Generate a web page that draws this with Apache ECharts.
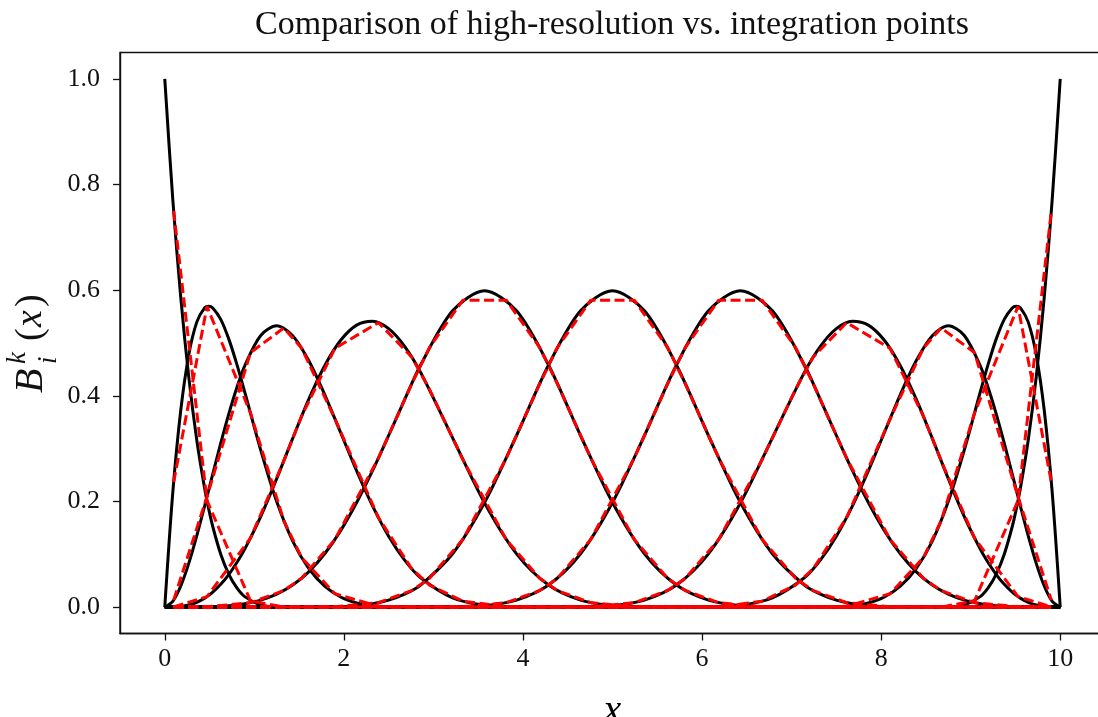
<!DOCTYPE html>
<html>
<head>
<meta charset="utf-8">
<script src="https://cdn.jsdelivr.net/npm/echarts@6/dist/echarts.min.js"></script>
<style>
html,body{margin:0;padding:0;background:#fff;}
#chart{width:1098px;height:717px;}
</style>
</head>
<body>
<div id="chart"></div>
<script>
// ---- high-resolution sample locations (x) ----
const X_HI = [0, 0.089286, 0.178571, 0.267857, 0.357143, 0.446429, 0.491071, 0.535714, 0.625, 0.714286, 0.803571, 0.892857, 1.071429, 1.25, 1.428571, 1.607143, 1.785714, 1.964286, 2.142857, 2.321429, 2.5, 2.678571, 2.857143,
  3.214286, 3.571429, 3.928571, 4.285714, 4.642857, 5, 5.357143, 5.714286, 6.071429, 6.428571, 6.785714,
  7.142857, 7.321429, 7.5, 7.678571, 7.857143, 8.035714, 8.214286, 8.392857, 8.571429, 8.75, 8.928571, 9.107143, 9.196429, 9.285714, 9.375, 9.464286, 9.508929, 9.553571, 9.642857, 9.732143, 9.821429, 9.910714, 10];

// ---- high-resolution basis values (black solid) ----
const B0 = [1, 0.772476, 0.586182, 0.435806, 0.316406, 0.223404, 0.185471, 0.152588, 0.100113, 0.0625, 0.036636, 0.019775, 0.003906, 0.000244, 0, 0, 0, 0, 0, 0, 0, 0, 0,
  0, 0, 0, 0, 0, 0, 0, 0, 0, 0, 0,
  0, 0, 0, 0, 0, 0, 0, 0, 0, 0, 0, 0, 0, 0, 0, 0, 0, 0, 0, 0, 0, 0, 0];
const B1 = [0, 0.216524, 0.372589, 0.47742, 0.53955, 0.566836, 0.569675, 0.566437, 0.544833, 0.507812, 0.460482, 0.407257, 0.297363, 0.199737, 0.125, 0.073273, 0.039551, 0.019073, 0.007813, 0.002472, 0.000488, 0.000031, 0,
  0, 0, 0, 0, 0, 0, 0, 0, 0, 0, 0,
  0, 0, 0, 0, 0, 0, 0, 0, 0, 0, 0, 0, 0, 0, 0, 0, 0, 0, 0, 0, 0, 0, 0];
const B2 = [0, 0.010842, 0.040002, 0.082758, 0.13482, 0.19233, 0.22204, 0.251861, 0.310423, 0.365452, 0.41482, 0.456832, 0.51416, 0.532515, 0.513889, 0.466828, 0.402398, 0.330163, 0.257813, 0.191166, 0.134169, 0.088898, 0.055556,
  0.017578, 0.003472, 0.000217, 0, 0, 0, 0, 0, 0, 0, 0,
  0, 0, 0, 0, 0, 0, 0, 0, 0, 0, 0, 0, 0, 0, 0, 0, 0, 0, 0, 0, 0, 0, 0];
const B3 = [0, 0.000157, 0.001217, 0.003966, 0.009061, 0.017034, 0.022231, 0.02829, 0.043106, 0.061632, 0.08389, 0.109778, 0.171387, 0.24308, 0.319444, 0.393199, 0.456977, 0.505124, 0.533854, 0.541256, 0.527289, 0.493785, 0.444444,
  0.320475, 0.197049, 0.100857, 0.041667, 0.013184, 0.002604, 0.000163, 0, 0, 0, 0,
  0, 0, 0, 0, 0, 0, 0, 0, 0, 0, 0, 0, 0, 0, 0, 0, 0, 0, 0, 0, 0, 0, 0];
const B4 = [0, 0.000001, 0.00001, 0.000052, 0.000163, 0.000397, 0.000582, 0.000824, 0.001527, 0.002604, 0.004171, 0.006358, 0.013184, 0.024424, 0.041667, 0.066691, 0.100911, 0.144816, 0.197917, 0.258748, 0.32487, 0.392863, 0.458333,
  0.560872, 0.598958, 0.560872, 0.458333, 0.32487, 0.197917, 0.100911, 0.041667, 0.013184, 0.002604, 0.000163,
  0, 0, 0, 0, 0, 0, 0, 0, 0, 0, 0, 0, 0, 0, 0, 0, 0, 0, 0, 0, 0, 0, 0];
const B5 = [0, 0, 0, 0, 0, 0, 0, 0, 0, 0, 0, 0, 0, 0, 0, 0.00001, 0.000163, 0.000824, 0.002604, 0.006358, 0.013184, 0.024424, 0.041667,
  0.100911, 0.197917, 0.32487, 0.458333, 0.560872, 0.598958, 0.560872, 0.458333, 0.32487, 0.197917, 0.100911,
  0.041667, 0.024424, 0.013184, 0.006358, 0.002604, 0.000824, 0.000163, 0.00001, 0, 0, 0, 0, 0, 0, 0, 0, 0, 0, 0, 0, 0, 0, 0];
const B6 = [0, 0, 0, 0, 0, 0, 0, 0, 0, 0, 0, 0, 0, 0, 0, 0, 0, 0, 0, 0, 0, 0, 0,
  0.000163, 0.002604, 0.013184, 0.041667, 0.100911, 0.197917, 0.32487, 0.458333, 0.560872, 0.598958, 0.560872,
  0.458333, 0.392863, 0.32487, 0.258748, 0.197917, 0.144816, 0.100911, 0.066691, 0.041667, 0.024424, 0.013184, 0.006358, 0.004171, 0.002604, 0.001527, 0.000824, 0.000582, 0.000397, 0.000163, 0.000052, 0.00001, 0.000001, 0];
const B7 = [0, 0, 0, 0, 0, 0, 0, 0, 0, 0, 0, 0, 0, 0, 0, 0, 0, 0, 0, 0, 0, 0, 0,
  0, 0, 0, 0, 0.000163, 0.002604, 0.013184, 0.041667, 0.100857, 0.197049, 0.320475,
  0.444444, 0.493785, 0.527289, 0.541256, 0.533854, 0.505124, 0.456977, 0.393199, 0.319444, 0.24308, 0.171387, 0.109778, 0.08389, 0.061632, 0.043106, 0.02829, 0.022231, 0.017034, 0.009061, 0.003966, 0.001217, 0.000157, 0];
const B8 = [0, 0, 0, 0, 0, 0, 0, 0, 0, 0, 0, 0, 0, 0, 0, 0, 0, 0, 0, 0, 0, 0, 0,
  0, 0, 0, 0, 0, 0, 0, 0, 0.000217, 0.003472, 0.017578,
  0.055556, 0.088898, 0.134169, 0.191166, 0.257813, 0.330163, 0.402398, 0.466828, 0.513889, 0.532515, 0.51416, 0.456832, 0.41482, 0.365452, 0.310423, 0.251861, 0.22204, 0.19233, 0.13482, 0.082758, 0.040002, 0.010842, 0];
const B9 = [0, 0, 0, 0, 0, 0, 0, 0, 0, 0, 0, 0, 0, 0, 0, 0, 0, 0, 0, 0, 0, 0, 0,
  0, 0, 0, 0, 0, 0, 0, 0, 0, 0, 0,
  0, 0.000031, 0.000488, 0.002472, 0.007813, 0.019073, 0.039551, 0.073273, 0.125, 0.199737, 0.297363, 0.407257, 0.460482, 0.507812, 0.544833, 0.566437, 0.569675, 0.566836, 0.53955, 0.47742, 0.372589, 0.216524, 0];
const B10 = [0, 0, 0, 0, 0, 0, 0, 0, 0, 0, 0, 0, 0, 0, 0, 0, 0, 0, 0, 0, 0, 0, 0,
  0, 0, 0, 0, 0, 0, 0, 0, 0, 0, 0,
  0, 0, 0, 0, 0, 0, 0, 0, 0, 0.000244, 0.003906, 0.019775, 0.036636, 0.0625, 0.100113, 0.152588, 0.185471, 0.223404, 0.316406, 0.435806, 0.586182, 0.772476, 1];

// ---- integration point locations (x) ----
const X_GAUSS = [0.099188, 0.471442, 0.957129, 1.329383, 1.52776, 1.900014, 2.385701, 2.757955, 2.956331, 3.328585, 3.814272, 4.186526, 4.384903, 4.757156, 5.242844, 5.615097, 5.813474, 6.185728, 6.671415, 7.043669, 7.242045, 7.614299, 8.099986, 8.47224, 8.670617, 9.042871, 9.528558, 9.900812];

// ---- basis values at integration points (red dashed) ----
const R0 = [0.749882, 0.2015, 0.011861, 0.000023, 0, 0, 0, 0, 0, 0, 0, 0, 0, 0, 0, 0, 0, 0, 0, 0, 0, 0, 0, 0, 0, 0, 0, 0];
const R1 = [0.23664, 0.569224, 0.367416, 0.163455, 0.093735, 0.025188, 0.001483, 0.000003, 0, 0, 0, 0, 0, 0, 0, 0, 0, 0, 0, 0, 0, 0, 0, 0, 0, 0, 0, 0];
const R2 = [0.013262, 0.208941, 0.481793, 0.528431, 0.490529, 0.356537, 0.169391, 0.072659, 0.04166, 0.011194, 0.000659, 0.000001, 0, 0, 0, 0, 0, 0, 0, 0, 0, 0, 0, 0, 0, 0, 0, 0];
const R3 = [0.000215, 0.019842, 0.130535, 0.276846, 0.361239, 0.489873, 0.538635, 0.473517, 0.412161, 0.279297, 0.127743, 0.054495, 0.031245, 0.008396, 0.000494, 0.000001, 0, 0, 0, 0, 0, 0, 0, 0, 0, 0, 0, 0];
const R4 = [0.000001, 0.000494, 0.008396, 0.031245, 0.054496, 0.127908, 0.282095, 0.422576, 0.491683, 0.581107, 0.581107, 0.491683, 0.422576, 0.282095, 0.127908, 0.054496, 0.031245, 0.008396, 0.000494, 0.000001, 0, 0, 0, 0, 0, 0, 0, 0];
const R5 = [0, 0, 0, 0, 0.000001, 0.000494, 0.008396, 0.031245, 0.054496, 0.127908, 0.282095, 0.422576, 0.491683, 0.581107, 0.581107, 0.491683, 0.422576, 0.282095, 0.127908, 0.054496, 0.031245, 0.008396, 0.000494, 0.000001, 0, 0, 0, 0];
const R6 = [0, 0, 0, 0, 0, 0, 0, 0, 0.000001, 0.000494, 0.008396, 0.031245, 0.054496, 0.127908, 0.282095, 0.422576, 0.491683, 0.581107, 0.581107, 0.491683, 0.422576, 0.282095, 0.127908, 0.054496, 0.031245, 0.008396, 0.000494, 0.000001];
const R7 = [0, 0, 0, 0, 0, 0, 0, 0, 0, 0, 0, 0, 0.000001, 0.000494, 0.008396, 0.031245, 0.054495, 0.127743, 0.279297, 0.412161, 0.473517, 0.538635, 0.489873, 0.361239, 0.276846, 0.130535, 0.019842, 0.000215];
const R8 = [0, 0, 0, 0, 0, 0, 0, 0, 0, 0, 0, 0, 0, 0, 0, 0, 0.000001, 0.000659, 0.011194, 0.04166, 0.072659, 0.169391, 0.356537, 0.490529, 0.528431, 0.481793, 0.208941, 0.013262];
const R9 = [0, 0, 0, 0, 0, 0, 0, 0, 0, 0, 0, 0, 0, 0, 0, 0, 0, 0, 0, 0, 0.000003, 0.001483, 0.025188, 0.093735, 0.163455, 0.367416, 0.569224, 0.23664];
const R10 = [0, 0, 0, 0, 0, 0, 0, 0, 0, 0, 0, 0, 0, 0, 0, 0, 0, 0, 0, 0, 0, 0, 0, 0, 0.000023, 0.011861, 0.2015, 0.749882];

// ---- tick labels ----
const X_TICKS = [0, 2, 4, 6, 8, 10];
const Y_TICKS = [0, 0.2, 0.4, 0.6, 0.8, 1.0];
const TITLE = 'Comparison of high-resolution vs. integration points';

const BLACK = [B0, B1, B2, B3, B4, B5, B6, B7, B8, B9, B10];
const RED = [R0, R1, R2, R3, R4, R5, R6, R7, R8, R9, R10];

BLACK.forEach((a, i) => { if (a.length !== X_HI.length) throw new Error('B' + i + ' length ' + a.length + ' != ' + X_HI.length); });
RED.forEach((a, i) => { if (a.length !== X_GAUSS.length) throw new Error('R' + i + ' length ' + a.length); });

const SERIF = '"Liberation Serif", "DejaVu Serif", serif';

const series = [];
BLACK.forEach((arr, i) => {
  series.push({
    type: 'line', name: 'hi-res ' + i, smooth: 0.3, showSymbol: false, symbol: 'none',
    data: X_HI.map((x, k) => [x, arr[k]]),
    lineStyle: { color: '#000', width: 3 }, z: 2, silent: true
  });
});
RED.forEach((arr, i) => {
  series.push({
    type: 'line', name: 'integration ' + i, showSymbol: false, symbol: 'none',
    data: X_GAUSS.map((x, k) => [x, arr[k]]),
    lineStyle: { color: '#ff0000', width: 3, type: [10, 4.5] }, z: 3, silent: true
  });
});

const chart = echarts.init(document.getElementById('chart'), null, { renderer: 'canvas' });
chart.setOption({
  animation: false,
  backgroundColor: '#fff',
  grid: { left: 120, right: -7, top: 52.5, bottom: 83.5, show: true, borderColor: '#111', borderWidth: 1.4, backgroundColor: 'transparent', containLabel: false, outerBoundsMode: 'none' },
  xAxis: {
    type: 'value', min: -0.5, max: 10.5,
    name: 'x', nameLocation: 'middle', nameGap: 58,
    nameTextStyle: { fontFamily: SERIF, fontStyle: 'italic', fontSize: 40, color: '#000' },
    axisLine: { show: true, onZero: false, lineStyle: { color: '#111', width: 1.4 } },
    axisTick: { show: true, inside: false, length: 7, customValues: X_TICKS, lineStyle: { color: '#111', width: 1.3 } },
    axisLabel: { customValues: X_TICKS, fontFamily: SERIF, fontSize: 26, color: '#111', margin: 13 },
    splitLine: { show: false }
  },
  yAxis: {
    type: 'value', min: -0.05, max: 1.05,
    axisLine: { show: true, onZero: false, lineStyle: { color: '#111', width: 1.4 } },
    axisTick: { show: true, inside: false, length: 7, customValues: Y_TICKS, lineStyle: { color: '#111', width: 1.3 } },
    axisLabel: { customValues: Y_TICKS, fontFamily: SERIF, fontSize: 26, color: '#111', margin: 20,
      formatter: v => v.toFixed(1) },
    splitLine: { show: false }
  },
  graphic: [
    { type: 'text', x: 612, y: 25, style: { text: TITLE, font: '34px ' + SERIF, fill: '#111', align: 'center', verticalAlign: 'middle' } },
    { type: 'group', x: 35, y: 343, rotation: Math.PI / 2, children: [
      { type: 'text', x: -50, y: -4, style: { text: 'B', font: 'italic 40px ' + SERIF, fill: '#111', align: 'left', verticalAlign: 'middle' } },
      { type: 'text', x: -21, y: -17, style: { text: 'k', font: 'italic 27px ' + SERIF, fill: '#111', align: 'left', verticalAlign: 'middle' } },
      { type: 'text', x: -21, y: 14, style: { text: 'i', font: 'italic 27px ' + SERIF, fill: '#111', align: 'left', verticalAlign: 'middle' } },
      { type: 'text', x: 2, y: -4, style: { text: '(', font: '38px ' + SERIF, fill: '#111', align: 'left', verticalAlign: 'middle' } },
      { type: 'text', x: 16, y: -4, style: { text: 'x', font: 'italic 38px ' + SERIF, fill: '#111', align: 'left', verticalAlign: 'middle' } },
      { type: 'text', x: 36, y: -4, style: { text: ')', font: '38px ' + SERIF, fill: '#111', align: 'left', verticalAlign: 'middle' } }
    ]}
  ],
  series: series
});
</script>
</body>
</html>
